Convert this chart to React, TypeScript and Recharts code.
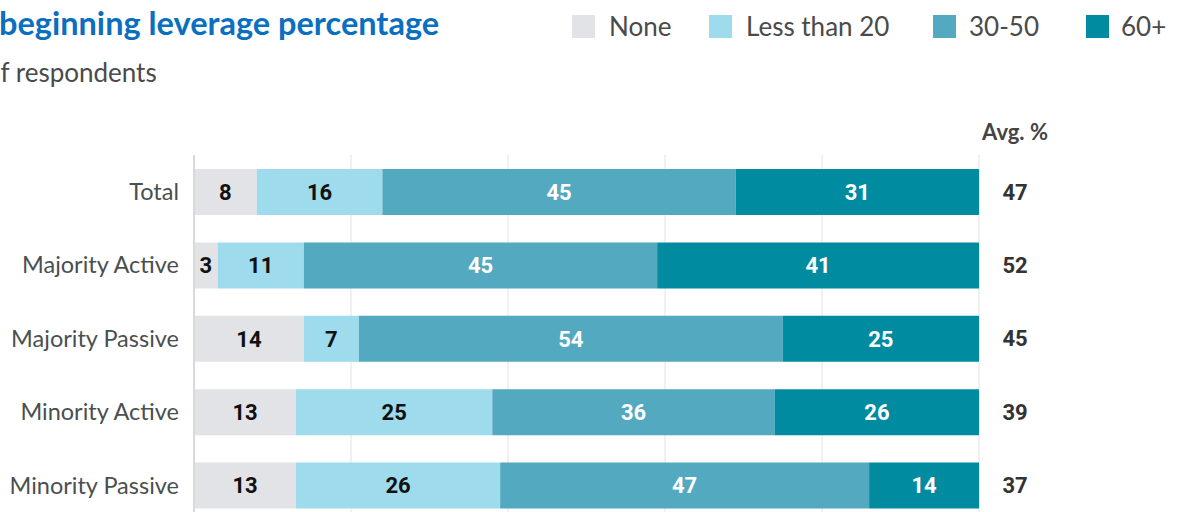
import React from "react";
import { BarChart, Bar, XAxis, YAxis, CartesianGrid, LabelList } from "recharts";

const categories = ["Total", "Majority Active", "Majority Passive", "Minority Active", "Minority Passive"];
const noneValues = [8, 3, 14, 13, 13];
const lessThan20Values = [16, 11, 7, 25, 26];
const midValues = [45, 45, 54, 36, 47];
const highValues = [31, 41, 25, 26, 14];
const avgValues = [47, 52, 45, 39, 37];
const xTicks = [0, 20, 40, 60, 80, 100];

const series = [
  { key: "none", name: "None", color: "#e2e3e7", text: "#111" },
  { key: "lt20", name: "Less than 20", color: "#9ddbed", text: "#111" },
  { key: "mid", name: "30-50", color: "#53a9bf", text: "#fff" },
  { key: "high", name: "60+", color: "#008ba1", text: "#fff" },
];

// legend layout: square x, text x
const legendPos = [
  [572, 609],
  [709, 746],
  [933, 969],
  [1086, 1121],
];

const data = categories.map((name, i) => ({
  name,
  none: noneValues[i],
  lt20: lessThan20Values[i],
  mid: midValues[i],
  high: highValues[i],
  avg: avgValues[i],
}));

const AvgLabel = (props: any) => {
  const { x, y, width, height, value } = props;
  return (
    <text
      x={x + width + 36}
      y={y + height / 2}
      textAnchor="middle"
      dominantBaseline="central"
      fill="#333"
      fontSize={22}
      fontWeight={700}
      fontFamily="Roboto, sans-serif"
    >
      {value}
    </text>
  );
};

export default function App() {
  return (
    <div
      style={{
        position: "absolute",
        top: 0,
        left: 0,
        width: 1177,
        height: 512,
        overflow: "hidden",
        background: "#fff",
      }}
    >
      <div style={{ position: "absolute", left: 0, top: 0 }}>
        <BarChart
          width={1177}
          height={522}
          data={data}
          layout="vertical"
          margin={{ top: 155, right: 198, bottom: 0, left: 0 }}
          barSize={46}
        >
          <CartesianGrid horizontal={false} stroke="#e2e2e2" />
          <XAxis type="number" domain={[0, 100]} ticks={xTicks} hide />
          <YAxis
            type="category"
            dataKey="name"
            width={194}
            tickSize={0}
            tickMargin={15}
            axisLine={{ stroke: "#d9d9d9", strokeWidth: 2 }}
            tickLine={false}
            tick={{ fill: "#4a4f4f", fontSize: 23.5, fontFamily: "Lato, sans-serif" }}
          />
          {series.map((s) => (
            <Bar key={s.key} dataKey={s.key} name={s.name} stackId="a" fill={s.color} isAnimationActive={false}>
              <LabelList
                dataKey={s.key}
                position="center"
                fill={s.text}
                fontSize={22}
                fontWeight={700}
                fontFamily="Roboto, sans-serif"
              />
              {s.key === "high" && <LabelList dataKey="avg" content={AvgLabel} />}
            </Bar>
          ))}
        </BarChart>
      </div>
      <svg
        width={1177}
        height={160}
        style={{ position: "absolute", left: 0, top: 0, pointerEvents: "none" }}
        fontFamily="Lato, sans-serif"
      >
        <text x={-1} y={35} fontSize={32.5} fontWeight={700} fill="#0b6fbf">
          beginning leverage percentage
        </text>
        <text x={-14} y={82} fontSize={26} fill="#4a4a4a">
          of respondents
        </text>
        {series.map((s, i) => (
          <g key={s.key}>
            <rect x={legendPos[i][0]} y={15} width={23} height={23} fill={s.color} />
            <text x={legendPos[i][1]} y={36} fontSize={26} fill="#4a4a4a">
              {s.name}
            </text>
          </g>
        ))}
        <text x={1015} y={140} textAnchor="middle" fontSize={22} fontWeight={700} fill="#444">
          Avg. %
        </text>
      </svg>
    </div>
  );
}
